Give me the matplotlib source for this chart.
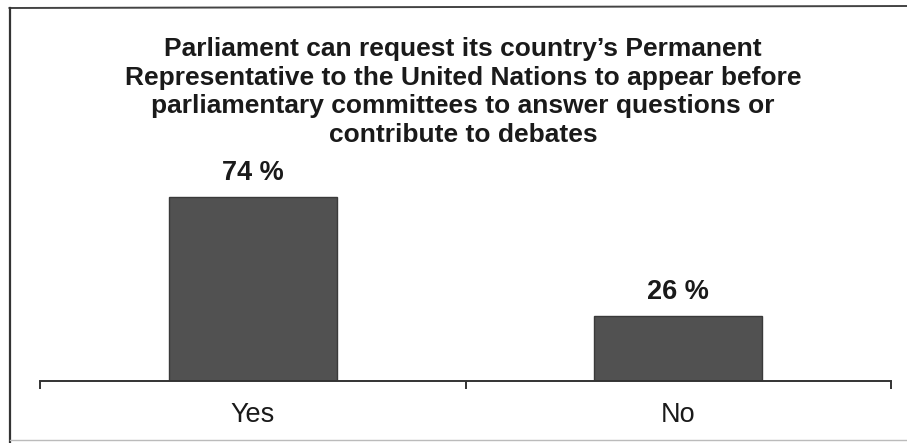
import matplotlib
matplotlib.use("Agg")
import matplotlib.pyplot as plt
from matplotlib.lines import Line2D

plt.rcParams["font.family"] = ["Liberation Sans", "DejaVu Sans"]

# survey result
categories = ["Yes", "No"]
shares = [74, 26]
title = ("Parliament can request its country\u2019s Permanent\n"
         "Representative to the United Nations to appear before\n"
         "parliamentary committees to answer questions or\n"
         "contribute to debates")

W, H = 907, 443
fig = plt.figure(figsize=(W / 100, H / 100), dpi=100)
fig.patch.set_facecolor("white")

# axes box in pixel terms: x 40..891, baseline at y=381, top at y=150
ax = fig.add_axes([40 / W, (H - 381) / H, (891 - 40) / W, (381 - 150) / H])
ax.set_facecolor("none")

x = range(len(categories))
ax.bar(x, shares, width=0.395, color="#515151", edgecolor="#3a3a3a", linewidth=1.0, zorder=2)
for xi, v in zip(x, shares):
    ax.annotate(f"{v} %", (xi, v), xytext=(0, 12.5), textcoords="offset points",
                ha="center", va="baseline", fontsize=19.5, fontweight="bold", color="#1a1a1a")

ax.set_xlim(-0.5, len(categories) - 0.5)
ax.set_ylim(0, 93.1)

for side in ("left", "right", "top"):
    ax.spines[side].set_visible(False)
ax.spines["bottom"].set_color("#333333")
ax.spines["bottom"].set_linewidth(1.4)
ax.set_yticks([])

# boundary ticks between categories, labels centred under the bars
ax.set_xticks([i - 0.5 for i in range(len(categories) + 1)])
ax.set_xticklabels([])
ax.tick_params(axis="x", which="major", direction="out", length=6, width=1.4, color="#333333")
ax.set_xticks(list(x), minor=True)
ax.set_xticklabels(categories, minor=True)
ax.tick_params(axis="x", which="minor", length=0, pad=15, labelsize=19.5, labelcolor="#1a1a1a")

fig.text(463 / W, 1 - 92 / H, title, ha="center", va="center", fontsize=19,
         fontweight="bold", color="#1a1a1a", linespacing=1.24)

# outer frame: top and left rules, faint bottom rule
fig.add_artist(Line2D([9.5 / W, 1.0], [1 - 8 / H, 1 - 6 / H], color="#444444", lw=1.4))
fig.add_artist(Line2D([9.5 / W, 9.5 / W], [1 - 8 / H, 0.0], color="#333333", lw=1.6))
fig.add_artist(Line2D([9.5 / W, 1.0], [1 - 440 / H, 1 - 440 / H], color="#bbbbbb", lw=1.0))

fig.savefig("out.png", dpi=100)
